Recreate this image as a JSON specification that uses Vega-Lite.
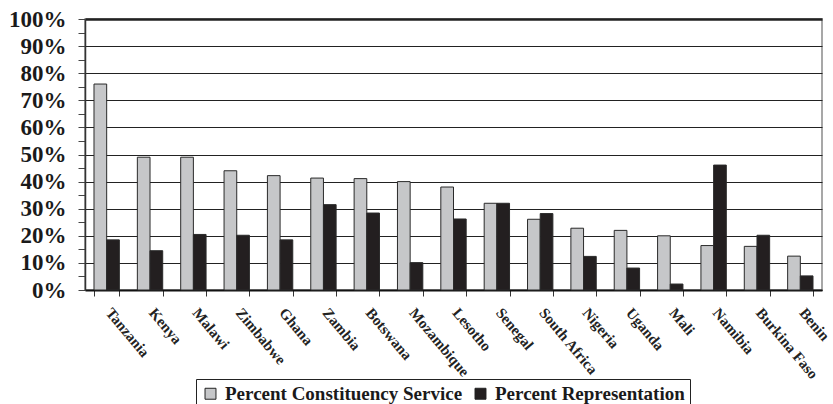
{
  "$schema": "https://vega.github.io/schema/vega-lite/v6.json",
  "autosize": "none",
  "padding": {"left": 85, "top": 19, "right": 11, "bottom": 114},
  "width": 737,
  "height": 271,
  "background": "white",
  "view": {"stroke": "#8a8a8a", "strokeWidth": 1.5},
  "data": {
    "values": [
      {"country": "Tanzania", "series": "Percent Constituency Service", "value": 0.76},
      {"country": "Tanzania", "series": "Percent Representation", "value": 0.185},
      {"country": "Kenya", "series": "Percent Constituency Service", "value": 0.49},
      {"country": "Kenya", "series": "Percent Representation", "value": 0.145},
      {"country": "Malawi", "series": "Percent Constituency Service", "value": 0.49},
      {"country": "Malawi", "series": "Percent Representation", "value": 0.205},
      {"country": "Zimbabwe", "series": "Percent Constituency Service", "value": 0.44},
      {"country": "Zimbabwe", "series": "Percent Representation", "value": 0.202},
      {"country": "Ghana", "series": "Percent Constituency Service", "value": 0.422},
      {"country": "Ghana", "series": "Percent Representation", "value": 0.185},
      {"country": "Zambia", "series": "Percent Constituency Service", "value": 0.413},
      {"country": "Zambia", "series": "Percent Representation", "value": 0.315},
      {"country": "Botswana", "series": "Percent Constituency Service", "value": 0.411},
      {"country": "Botswana", "series": "Percent Representation", "value": 0.284},
      {"country": "Mozambique", "series": "Percent Constituency Service", "value": 0.40},
      {"country": "Mozambique", "series": "Percent Representation", "value": 0.101},
      {"country": "Lesotho", "series": "Percent Constituency Service", "value": 0.38},
      {"country": "Lesotho", "series": "Percent Representation", "value": 0.262},
      {"country": "Senegal", "series": "Percent Constituency Service", "value": 0.32},
      {"country": "Senegal", "series": "Percent Representation", "value": 0.32},
      {"country": "South Africa", "series": "Percent Constituency Service", "value": 0.261},
      {"country": "South Africa", "series": "Percent Representation", "value": 0.282},
      {"country": "Nigeria", "series": "Percent Constituency Service", "value": 0.228},
      {"country": "Nigeria", "series": "Percent Representation", "value": 0.124},
      {"country": "Uganda", "series": "Percent Constituency Service", "value": 0.22},
      {"country": "Uganda", "series": "Percent Representation", "value": 0.081},
      {"country": "Mali", "series": "Percent Constituency Service", "value": 0.20},
      {"country": "Mali", "series": "Percent Representation", "value": 0.022},
      {"country": "Namibia", "series": "Percent Constituency Service", "value": 0.164},
      {"country": "Namibia", "series": "Percent Representation", "value": 0.461},
      {"country": "Burkina Faso", "series": "Percent Constituency Service", "value": 0.161},
      {"country": "Burkina Faso", "series": "Percent Representation", "value": 0.202},
      {"country": "Benin", "series": "Percent Constituency Service", "value": 0.125},
      {"country": "Benin", "series": "Percent Representation", "value": 0.052}
    ]
  },
  "mark": {"type": "bar", "stroke": "#2a2a2a", "strokeWidth": 1},
  "encoding": {
    "x": {
      "field": "country",
      "type": "nominal",
      "sort": null,
      "title": null,
      "scale": {"paddingInner": 0.415, "paddingOuter": 0.2075},
      "axis": {
        "labelAngle": 50,
        "labelAlign": "left",
        "labelBaseline": "top",
        "labelPadding": 9,
        "labelOffset": 7,
        "labelFont": "Times New Roman",
        "labelFontWeight": "bold",
        "labelFontSize": 15,
        "labelColor": "#222",
        "tickBand": "extent",
        "tickSize": 6,
        "tickColor": "#333",
        "domainColor": "#111",
        "domainWidth": 2,
        "grid": false
      }
    },
    "xOffset": {
      "field": "series",
      "type": "nominal",
      "scale": {"paddingInner": 0, "paddingOuter": 0}
    },
    "y": {
      "field": "value",
      "type": "quantitative",
      "title": null,
      "scale": {"domain": [0, 1], "nice": false},
      "axis": {
        "values": [0, 0.05, 0.1, 0.15, 0.2, 0.25, 0.3, 0.35, 0.4, 0.45, 0.5, 0.55, 0.6, 0.65, 0.7, 0.75, 0.8, 0.85, 0.9, 0.95, 1],
        "format": ".0%",
        "labelExpr": "round(datum.value*100) % 10 == 0 ? datum.label : ''",
        "labelFont": "Times New Roman",
        "labelFontWeight": "bold",
        "labelFontSize": 23,
        "labelColor": "#1a1a1a",
        "labelPadding": 12,
        "labelBaseline": "middle",
        "tickSize": 7,
        "tickColor": "#444",
        "domainColor": "#333",
        "domainWidth": 1.5,
        "grid": true,
        "gridColor": "#222",
        "gridWidth": {"condition": {"test": "datum.value == 1", "value": 2.5}, "value": 1.2},
        "gridOpacity": {"condition": {"test": "round(datum.value*100) % 10 != 0", "value": 0}, "value": 1}
      }
    },
    "color": {
      "field": "series",
      "type": "nominal",
      "scale": {
        "domain": ["Percent Constituency Service", "Percent Representation"],
        "range": ["#c6c7c9", "#231f20"]
      },
      "legend": {
        "title": null,
        "orient": "none",
        "legendX": 111,
        "legendY": 360,
        "direction": "horizontal",
        "strokeColor": "#222",
        "fillColor": "white",
        "padding": 5,
        "symbolType": "square",
        "symbolSize": 120,
        "symbolStrokeColor": "#222",
        "symbolStrokeWidth": 1,
        "labelFont": "Times New Roman",
        "labelFontWeight": "bold",
        "labelFontSize": 19,
        "labelColor": "#1a1a1a",
        "labelOffset": 5,
        "columnPadding": 8,
        "labelLimit": 400
      }
    }
  }
}
